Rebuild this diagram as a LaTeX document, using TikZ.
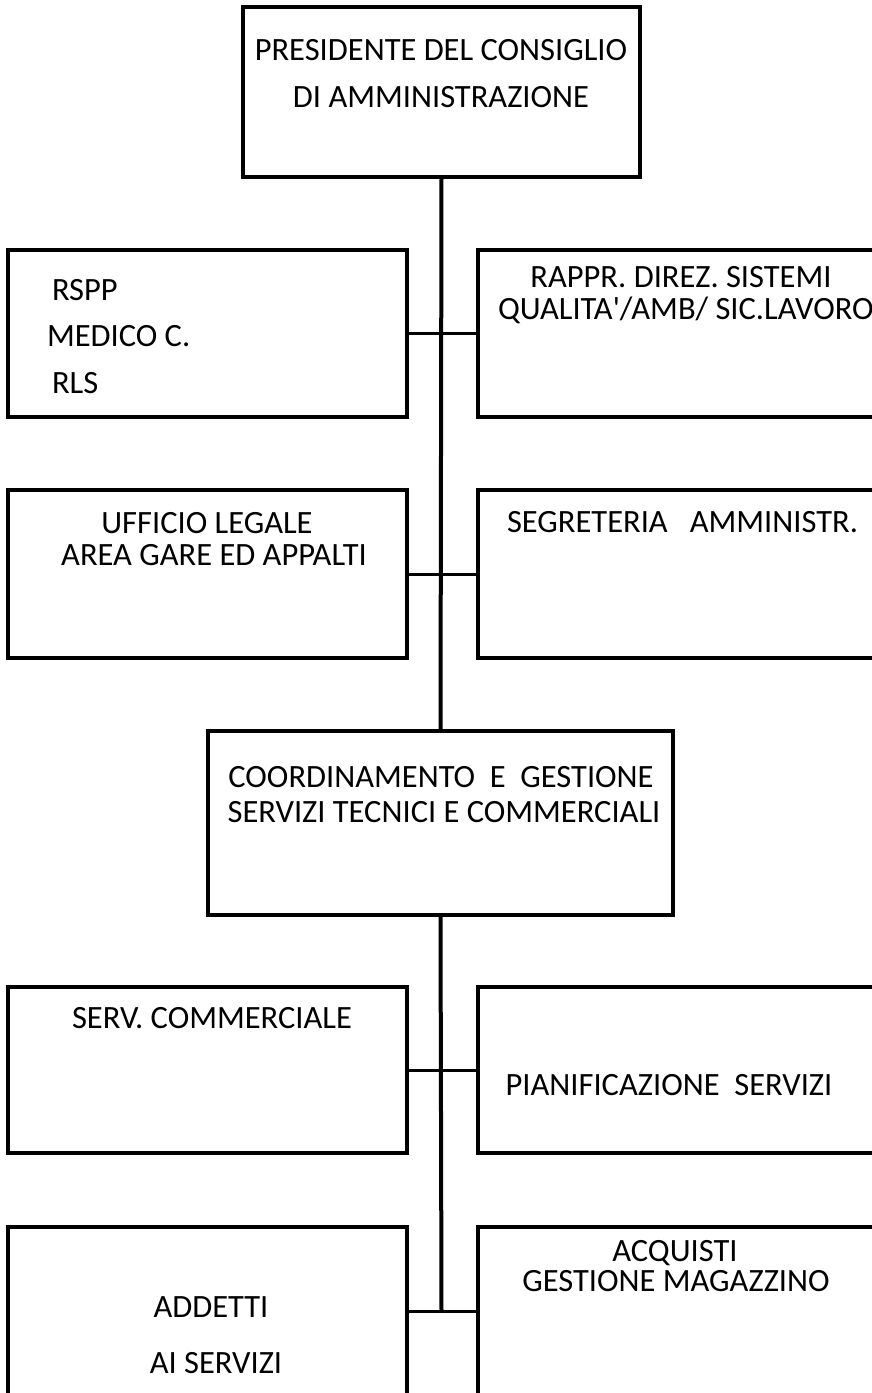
\documentclass[tikz,border=0pt]{standalone}
\usepackage{fontspec}
\setmainfont{Carlito}[Ligatures=TeXOff]

\begin{document}
\begin{tikzpicture}[x=1pt,y=-1pt,
	box/.style={draw,line width=3.5pt,rectangle,inner sep=0,outer sep=0,anchor=north west},
	lbl/.style={inner sep=0,outer sep=0,text height=21pt,text depth=0pt,font=\fontsize{32.5}{39}\selectfont},
	vlink/.style={line width=4pt},
	hlink/.style={line width=3pt}]
	\useasboundingbox (0,0) rectangle (872,1393);
	\node[box,minimum width=397pt,minimum height=170pt] (pres) at (243,7) {};
	\node[box,minimum width=399pt,minimum height=167pt] (rspp) at (8,250) {};
	\node[box,minimum width=420pt,minimum height=167pt] (rappr) at (478,250) {};
	\node[box,minimum width=399pt,minimum height=168pt] (legale) at (8,490) {};
	\node[box,minimum width=420pt,minimum height=168pt] (segr) at (478,490) {};
	\node[box,minimum width=465pt,minimum height=184pt] (coord) at (208,731) {};
	\node[box,minimum width=399pt,minimum height=166pt] (comm) at (8,987) {};
	\node[box,minimum width=420pt,minimum height=166pt] (pian) at (478,987) {};
	\node[box,minimum width=399pt,minimum height=200pt] (addetti) at (8,1227) {};
	\node[box,minimum width=420pt,minimum height=200pt] (acq) at (478,1227) {};
	\coordinate (j4) at (441.5,1311);
	\draw[vlink] (pres.south) -- (coord.north);
	\draw[vlink] (coord.south) -- (j4);
	\draw[hlink] (rspp.east) -- (rappr.west);
	\draw[hlink] (legale.east) -- (segr.west);
	\draw[hlink] (comm.east) -- (pian.west);
	\draw[hlink] (addetti.east |- j4) -- (acq.west |- j4);
	\node[lbl] (t1) at (441,50) {PRESIDENTE DEL CONSIGLIO};
	\node[lbl] (t2) at (441,97) {DI AMMINISTRAZIONE};
	\node[lbl,anchor=west] (t3) at (52,290) {RSPP};
	\node[lbl,anchor=west] (t4) at (47,336) {MEDICO C.};
	\node[lbl,anchor=west] (t5) at (52,383) {RLS};
	\node[lbl] (t6) at (681,277) {RAPPR. DIREZ. SISTEMI};
	\node[lbl,anchor=west] (t7) at (498,309) {QUALITA'/AMB/ SIC.LAVORO};
	\node[lbl] (t8) at (207,523) {UFFICIO LEGALE};
	\node[lbl] (t9) at (214,555) {AREA GARE ED APPALTI};
	\node[lbl,anchor=west] (t10) at (507,522) {SEGRETERIA\ \ \ AMMINISTR.};
	\node[lbl] (t11) at (441,777) {COORDINAMENTO\ \ E\ \ GESTIONE};
	\node[lbl] (t12) at (444,812) {SERVIZI TECNICI E COMMERCIALI};
	\node[lbl] (t13) at (212,1018) {SERV. COMMERCIALE};
	\node[lbl] (t14) at (669,1085) {PIANIFICAZIONE\ \ SERVIZI};
	\node[lbl] (t15) at (211,1307) {ADDETTI};
	\node[lbl] (t16) at (216,1363) {AI SERVIZI};
	\node[lbl] (t17) at (675,1251) {ACQUISTI};
	\node[lbl] (t18) at (676,1281) {GESTIONE MAGAZZINO};
\end{tikzpicture}
\end{document}
